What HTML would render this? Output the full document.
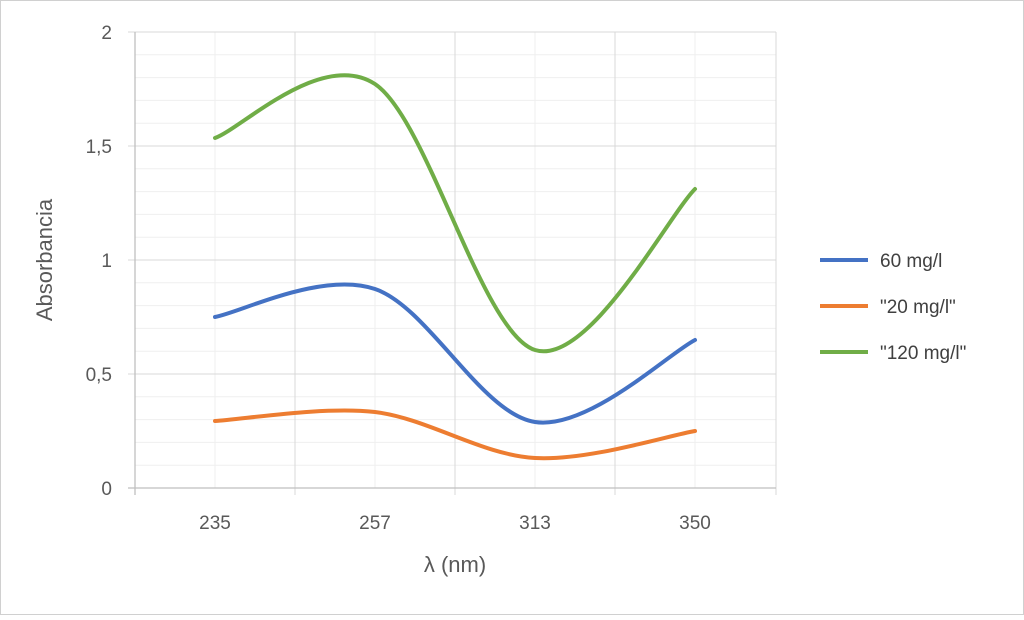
<!DOCTYPE html>
<html><head><style>body{margin:0;background:#fff}</style></head><body>
<svg width="1024" height="615" xmlns="http://www.w3.org/2000/svg" font-family="Liberation Sans, sans-serif">
<rect x="0.5" y="0.5" width="1023" height="614" fill="#fff" stroke="#d0d0d0"/>
<g stroke="#efefef" stroke-width="1">
<line x1="135" x2="776" y1="465.2" y2="465.2"/><line x1="135" x2="776" y1="442.4" y2="442.4"/><line x1="135" x2="776" y1="419.6" y2="419.6"/><line x1="135" x2="776" y1="396.8" y2="396.8"/>
<line x1="135" x2="776" y1="351.2" y2="351.2"/><line x1="135" x2="776" y1="328.4" y2="328.4"/><line x1="135" x2="776" y1="305.6" y2="305.6"/><line x1="135" x2="776" y1="282.8" y2="282.8"/>
<line x1="135" x2="776" y1="237.2" y2="237.2"/><line x1="135" x2="776" y1="214.4" y2="214.4"/><line x1="135" x2="776" y1="191.6" y2="191.6"/><line x1="135" x2="776" y1="168.8" y2="168.8"/>
<line x1="135" x2="776" y1="123.2" y2="123.2"/><line x1="135" x2="776" y1="100.4" y2="100.4"/><line x1="135" x2="776" y1="77.6" y2="77.6"/><line x1="135" x2="776" y1="54.8" y2="54.8"/>
<line x1="215" x2="215" y1="32" y2="488"/><line x1="375" x2="375" y1="32" y2="488"/><line x1="535" x2="535" y1="32" y2="488"/><line x1="695" x2="695" y1="32" y2="488"/>
</g>
<g stroke="#d9d9d9" stroke-width="1">
<line x1="128" x2="776" y1="32" y2="32"/><line x1="128" x2="776" y1="146" y2="146"/><line x1="128" x2="776" y1="260" y2="260"/><line x1="128" x2="776" y1="374" y2="374"/>
<line x1="295" x2="295" y1="32" y2="495"/><line x1="455" x2="455" y1="32" y2="495"/><line x1="615" x2="615" y1="32" y2="495"/><line x1="776" x2="776" y1="32" y2="495"/>
</g>
<g stroke="#bfbfbf" stroke-width="1.3"><line x1="135" x2="135" y1="32" y2="495"/><line x1="128" x2="776" y1="488" y2="488"/></g>
<g fill="#595959" font-size="19" text-anchor="end">
<text x="112" y="39">2</text><text x="112" y="153">1,5</text><text x="112" y="267">1</text><text x="112" y="381">0,5</text><text x="112" y="495">0</text>
</g>
<g fill="#595959" font-size="19" text-anchor="middle">
<text x="215" y="529">235</text><text x="375" y="529">257</text><text x="535" y="529">313</text><text x="695" y="529">350</text>
</g>
<text x="455" y="572" font-size="22" fill="#595959" text-anchor="middle">λ (nm)</text>
<text transform="translate(52,260) rotate(-90)" font-size="22" fill="#595959" text-anchor="middle">Absorbancia</text>
<g fill="none" stroke-width="4" stroke-linecap="round">
<path stroke="#70AD47" d="M215,138 C241.7,128.5 321.7,49 375,84 C428.3,120 481.7,333.2 535,350 C588.3,366.8 668.3,215.8 695,189"/>
<path stroke="#4472C4" d="M215,317 C241.7,312 321.7,271 375,289 C428.3,307 481.7,414 535,422 C588.3,430 668.3,353.7 695,340"/>
<path stroke="#ED7D31" d="M215,421 C241.7,419.7 321.7,406 375,412 C428.3,418.5 481.7,455 535,458 C588.3,461 668.3,435.5 695,431"/>
</g>
<g stroke-width="4"><line x1="820" x2="868" y1="260" y2="260" stroke="#4472C4"/><line x1="820" x2="868" y1="306" y2="306" stroke="#ED7D31"/><line x1="820" x2="868" y1="352" y2="352" stroke="#70AD47"/></g>
<g fill="#404040" font-size="19"><text x="880" y="267">60 mg/l</text><text x="880" y="313">"20 mg/l"</text><text x="880" y="359">"120 mg/l"</text></g>
</svg>
</body></html>
